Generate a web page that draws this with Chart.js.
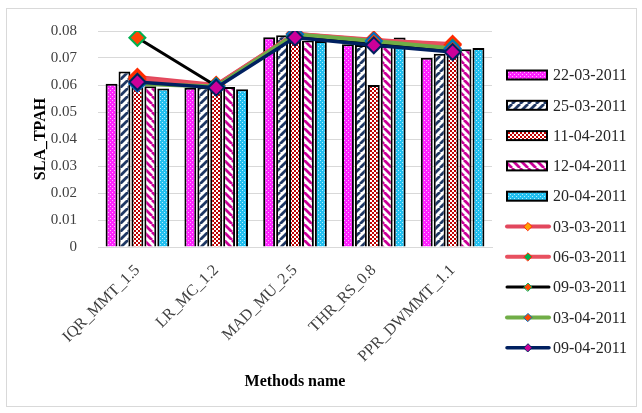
<!DOCTYPE html>
<html>
<head>
<meta charset="utf-8">
<script src="https://cdn.jsdelivr.net/npm/chart.js@4.4.0/dist/chart.umd.min.js"></script>
<style>
  html, body { margin: 0; padding: 0; background: #fff; }
</style>
</head>
<body>
<canvas id="myChart" width="642" height="413"></canvas>
<script>
// categories
var categories = ["IQR_MMT_1.5", "LR_MC_1.2", "MAD_MU_2.5", "THR_RS_0.8", "PPR_DWMMT_1.1"];

// bar series
var barNames = ["22-03-2011", "25-03-2011", "11-04-2011", "12-04-2011", "20-04-2011"];
var bar22_03 = [0.0605, 0.0590, 0.0777, 0.0751, 0.0701];
var bar25_03 = [0.0650, 0.0592, 0.0784, 0.0748, 0.0716];
var bar11_04 = [0.0615, 0.0600, 0.0780, 0.0600, 0.0730];
var bar12_04 = [0.0595, 0.0593, 0.0765, 0.0745, 0.0732];
var bar20_04 = [0.0587, 0.0584, 0.0763, 0.0776, 0.0737];

// line series
var lineNames = ["03-03-2011", "06-03-2011", "09-03-2011", "03-04-2011", "09-04-2011"];
var line03_03 = [0.0630, 0.0600, 0.0790, 0.0765, 0.0752];
var line06_03 = [0.0622, 0.0598, 0.0790, 0.0768, 0.0748];
var line09_03 = [0.0775, 0.0596, 0.0780, 0.0755, 0.0728];
var line03_04 = [0.0605, 0.0594, 0.0788, 0.0763, 0.0735];
var line09_04 = [0.0611, 0.0590, 0.0776, 0.0747, 0.0722];

// y ticks
var yMin = 0, yMax = 0.08, yStep = 0.01;

var FONT = "'Liberation Serif', 'Times New Roman', serif";
var ctx = document.getElementById("myChart").getContext("2d");

// pattern helpers
function makePattern(size, draw) {
    var c = document.createElement("canvas");
    c.width = size; c.height = size;
    var g = c.getContext("2d");
    draw(g, size);
    return ctx.createPattern(c, "repeat");
}
function dots(color, light) {
    return makePattern(4, function (g) {
        g.fillStyle = color; g.fillRect(0, 0, 4, 4);
        g.fillStyle = light;
        g.fillRect(0, 0, 1, 1);
        g.fillRect(2, 2, 1, 1);
    });
}
function checks(color) {
    return makePattern(4, function (g) {
        g.fillStyle = "#fff"; g.fillRect(0, 0, 4, 4);
        g.fillStyle = color;
        g.fillRect(0, 0, 2, 2);
        g.fillRect(2, 2, 2, 2);
    });
}
function stripes(color, up) {
    return makePattern(8, function (g, s) {
        g.fillStyle = "#fff"; g.fillRect(0, 0, s, s);
        g.strokeStyle = color; g.lineWidth = 2.8;
        g.beginPath();
        for (var k = -1; k <= 1; k++) {
            if (up) { g.moveTo(k * s, s); g.lineTo(k * s + s, 0); }
            else { g.moveTo(k * s, 0); g.lineTo(k * s + s, s); }
        }
        g.stroke();
    });
}

var barFills = [dots("#ff22ff", "#ffb3ff"), stripes("#1f3864", true), checks("#c00000"), stripes("#cc0099", false), dots("#22c0f0", "#b3ecff")];
var barData = [bar22_03, bar25_03, bar11_04, bar12_04, bar20_04];

var lineData = [line03_03, line06_03, line09_03, line03_04, line09_04];
var lineColors = ["#e2475d", "#e8505f", "#000000", "#70ad47", "#002060"];
var lineWidths = [4, 4, 3, 4, 3.5];
var markFill = ["#ffa000", "#00b050", "#ff4500", "#ff4500", "#cc0099"];
var markEdge = ["#ff2a00", "#ff2a00", "#00b050", "#0070c0", "#002060"];

var datasets = [];
for (var i = 0; i < barData.length; i++) {
    datasets.push({
        type: "bar",
        label: barNames[i],
        data: barData[i],
        backgroundColor: barFills[i],
        borderColor: "#000",
        borderWidth: 2,
        categoryPercentage: 0.82,
        barPercentage: 0.92,
        order: 10
    });
}
for (var j = 0; j < lineData.length; j++) {
    datasets.push({
        type: "line",
        label: lineNames[j],
        data: lineData[j],
        borderColor: lineColors[j],
        borderWidth: lineWidths[j],
        fill: false,
        tension: 0,
        pointStyle: "rectRot",
        pointRadius: 8,
        pointBackgroundColor: markFill[j],
        pointBorderColor: markEdge[j],
        pointBorderWidth: 2,
        order: 5 - j
    });
}

// frame + legend drawn by hand
var framePlugin = {
    id: "frame",
    beforeDraw: function (chart) {
        var c = chart.ctx;
        c.save();
        c.fillStyle = "#fff";
        c.fillRect(0, 0, chart.width, chart.height);
        c.strokeStyle = "#d9d9d9";
        c.lineWidth = 1;
        c.strokeRect(6.5, 8.5, 630, 398);
        c.restore();
    },
    afterDraw: function (chart) {
        var c = chart.ctx;
        var x0 = 507, y0 = 75, gap = 30.3;
        c.save();
        c.font = "16px " + FONT;
        c.textBaseline = "middle";
        chart.data.datasets.forEach(function (ds, k) {
            var y = y0 + k * gap;
            if (ds.type === "bar") {
                c.fillStyle = ds.backgroundColor;
                c.fillRect(x0, y - 4.5, 40, 9);
                c.strokeStyle = "#000";
                c.lineWidth = 2;
                c.strokeRect(x0, y - 4.5, 40, 9);
            } else {
                c.strokeStyle = ds.borderColor;
                c.lineWidth = ds.borderWidth;
                c.lineCap = "round";
                c.beginPath(); c.moveTo(x0, y); c.lineTo(x0 + 42, y); c.stroke();
                c.beginPath();
                c.moveTo(x0 + 21 - 4, y); c.lineTo(x0 + 21, y - 4);
                c.lineTo(x0 + 21 + 4, y); c.lineTo(x0 + 21, y + 4); c.closePath();
                c.fillStyle = ds.pointBackgroundColor; c.fill();
                c.strokeStyle = ds.pointBorderColor; c.lineWidth = 1; c.stroke();
            }
            c.fillStyle = "#262626";
            c.fillText(ds.label, 553, y + 1);
        });
        c.restore();
    }
};

var myChart = new Chart(ctx, {
    data: { labels: categories, datasets: datasets },
    options: {
        responsive: false,
        animation: false,
        layout: { padding: { left: 10, top: 31, right: 150, bottom: 12 } },
        plugins: { legend: { display: false }, tooltip: { enabled: false } },
        scales: {
            x: {
                grid: { display: false },
                border: { display: true, color: "#d9d9d9" },
                ticks: {
                    color: "#404040",
                    font: { family: FONT, size: 16 },
                    minRotation: 45, maxRotation: 45, padding: 6
                },
                title: {
                    display: true, text: "Methods name", color: "#000",
                    font: { family: FONT, size: 16, weight: "bold" },
                    padding: { top: 0, bottom: 10 }
                },
                afterFit: function (s) { s.height = 154; }
            },
            y: {
                min: yMin, max: yMax,
                grid: { color: "#d9d9d9", drawTicks: false },
                border: { display: false },
                ticks: {
                    stepSize: yStep, padding: 21, color: "#404040",
                    font: { family: FONT, size: 15 },
                    callback: function (v) { return v === 0 ? "0" : v.toFixed(2); }
                },
                title: {
                    display: true, text: "SLA_TPAH", color: "#000",
                    font: { family: FONT, size: 16, weight: "bold" },
                    padding: { top: 21, bottom: 0 }
                },
                afterFit: function (s) { s.width = 88; }
            }
        }
    },
    plugins: [framePlugin]
});
</script>
</body>
</html>
